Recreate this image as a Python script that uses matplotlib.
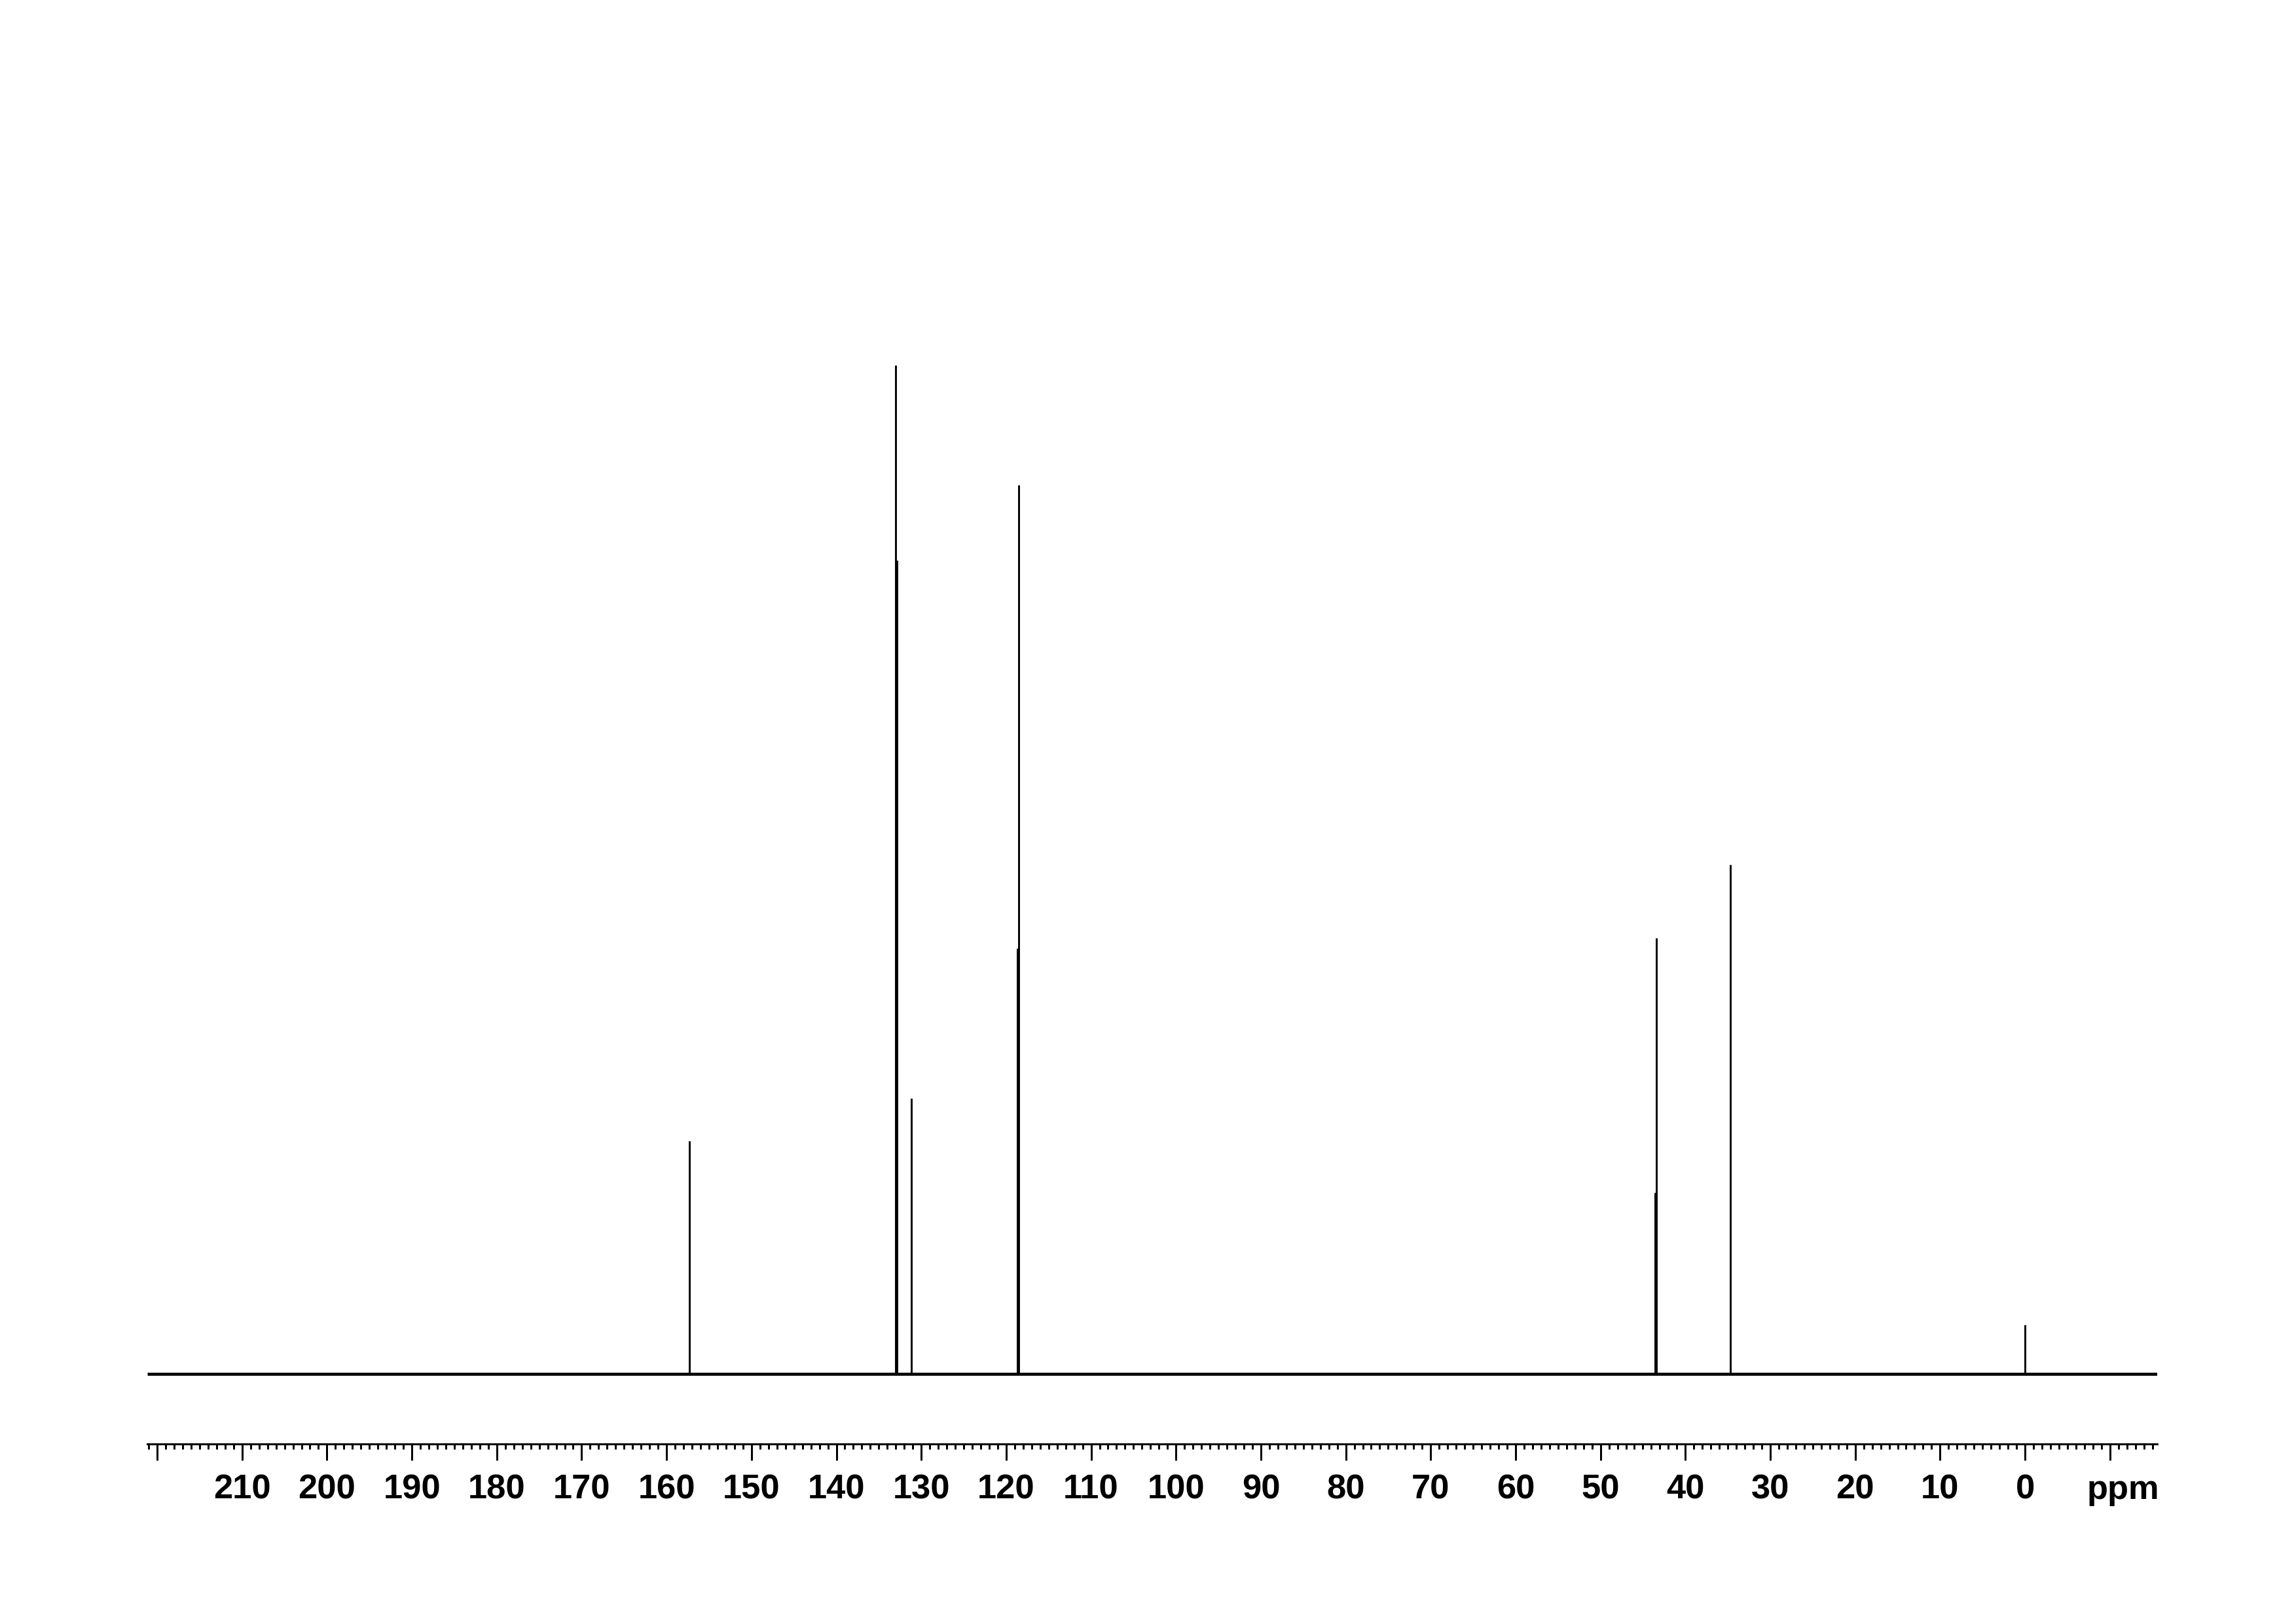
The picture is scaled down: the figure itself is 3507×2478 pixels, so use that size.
""" 13C NMR spectrum plot, TopSpin style """

import matplotlib.pyplot as plt
from matplotlib.ticker import FixedLocator, MultipleLocator

# peak positions (ppm) and heights (relative, tallest = 100)
peak_ppm = [157.35, 133.05, 132.9, 131.15, 118.65, 118.5, 43.6, 43.45, 34.7, 0.0]
peak_height = [23.1, 100.0, 80.7, 27.3, 42.2, 88.1, 18.0, 43.2, 50.5, 4.9]

# plotted window
ppm_limits = [221.2, -15.6]
intensity_limits = [-6.92, 100.0]

tick_values = [220, 210, 200, 190, 180, 170, 160, 150, 140, 130, 120, 110,
               100, 90, 80, 70, 60, 50, 40, 30, 20, 10, 0, -10]
tick_labels = ['', '210', '200', '190', '180', '170', '160', '150', '140', '130',
               '120', '110', '100', '90', '80', '70', '60', '50', '40', '30',
               '20', '10', '0', '']
unit_label = 'ppm'
unit_pos = -11.57

label_font = 'Liberation Sans'
label_size = 12.6
major_len = 6.0
label_pad = 4.8

fig = plt.figure(figsize=(11.693, 8.263), dpi=300)
ax = fig.add_axes([0.064, 0.1098, 0.8754, 0.6647])

# baseline and peaks
ax.hlines(0, ppm_limits[0], ppm_limits[1], color='black', lw=1.1)
ax.vlines(peak_ppm, 0, peak_height, color='black', lw=0.7, clip_on=False)

ax.set_xlim(ppm_limits)
ax.set_ylim(intensity_limits)

for side in ['top', 'left', 'right']:
    ax.spines[side].set_visible(False)
ax.spines['bottom'].set_linewidth(0.72)
ax.yaxis.set_visible(False)

ax.xaxis.set_major_locator(FixedLocator(tick_values))
ax.xaxis.set_minor_locator(MultipleLocator(1))
ax.set_xticklabels(tick_labels)
ax.tick_params(axis='x', which='major', direction='out', length=major_len,
               width=0.72, pad=label_pad)
ax.tick_params(axis='x', which='minor', direction='out', length=1.9, width=0.72)
for lbl in ax.get_xticklabels():
    lbl.set_fontfamily(label_font)
    lbl.set_fontweight('bold')
    lbl.set_fontsize(label_size)

# "ppm" sits on the same line as the tick labels
ax.annotate(unit_label, xy=(unit_pos, 0), xycoords=('data', 'axes fraction'),
            xytext=(0, -(major_len + label_pad)), textcoords='offset points',
            ha='center', va='top', fontsize=label_size, fontweight='bold',
            fontfamily=label_font)

fig.savefig('out.png', dpi=300)
